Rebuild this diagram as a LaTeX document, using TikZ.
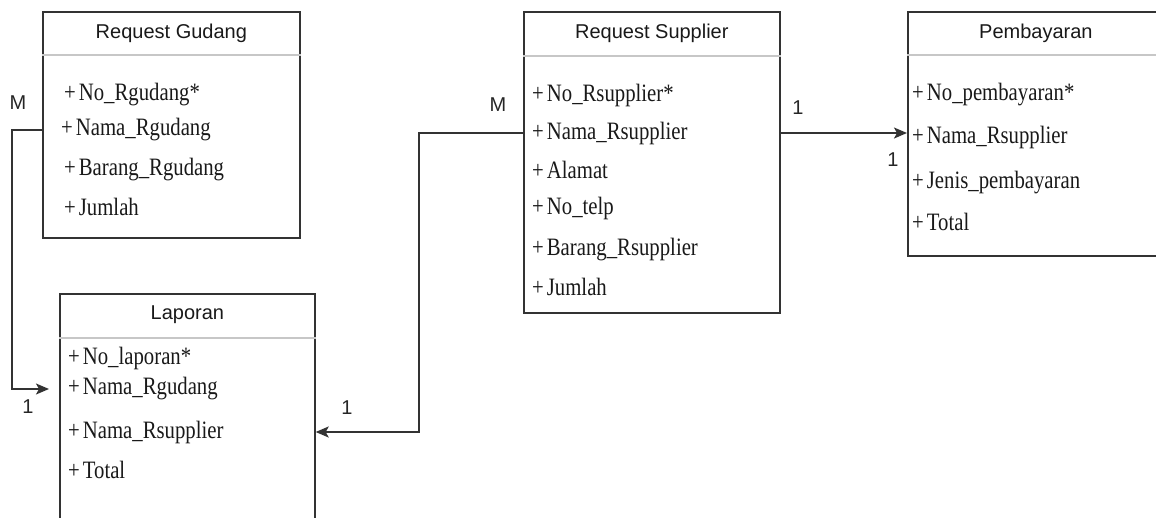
\documentclass[tikz,border=0pt]{standalone}
\usepackage{fontspec}
\setmainfont{Liberation Serif}
\newfontfamily\judulfont{Liberation Sans}
\newfontfamily\atributfont{Liberation Serif}[FakeStretch=0.83]
\usetikzlibrary{arrows.meta,positioning}

\begin{document}
\begin{tikzpicture}[x=1pt, y=-1pt, >={Stealth[length=13pt,width=11pt,inset=3pt]},
  tabel/.style={draw=black!80, line width=1.7pt, rectangle, anchor=north west, inner sep=0pt},
  sekat/.style={draw=black!22, line width=1.3pt},
  judul/.style={font=\judulfont\fontsize{20}{23}\selectfont, text=black!90},
  atribut/.style={font=\atributfont\fontsize{25}{28}\selectfont, anchor=west, inner sep=0pt, text=black!90},
  kardinal/.style={font=\judulfont\fontsize{20}{22}\selectfont, text=black!85},
  garis/.style={draw=black!80, line width=1.7pt}]
  \useasboundingbox (0,0) rectangle (1156,517);

  % Request Gudang
  \node[tabel, minimum width=257pt, minimum height=226pt] (gudang) at (42,11) {};
  \draw[sekat] ([yshift=-44pt]gudang.north west) -- ([yshift=-44pt]gudang.north east);
  \node[judul, below=9pt of gudang.north] (tgudang) {Request Gudang};
  \node[atribut] (rg1) at (64,95) {+\kern3pt No\_Rgudang*};
  \node[atribut] (rg2) at (61,130) {+\kern3pt Nama\_Rgudang};
  \node[atribut] (rg3) at (64,170) {+\kern3pt Barang\_Rgudang};
  \node[atribut] (rg4) at (64,207) {+\kern3pt Jumlah};

  % Laporan
  \node[tabel, minimum width=255pt, minimum height=260pt] (laporan) at (59,293) {};
  \draw[sekat] ([yshift=-45pt]laporan.north west) -- ([yshift=-45pt]laporan.north east);
  \node[judul, below=9pt of laporan.north] (tlaporan) {Laporan};
  \node[atribut] (lp1) at (68,358) {+\kern3pt No\_laporan*};
  \node[atribut] (lp2) at (68,389) {+\kern3pt Nama\_Rgudang};
  \node[atribut] (lp3) at (68,432) {+\kern3pt Nama\_Rsupplier};
  \node[atribut] (lp4) at (68,470) {+\kern3pt Total};

  % Request Supplier
  \node[tabel, minimum width=256pt, minimum height=301pt] (supplier) at (523,11) {};
  \draw[sekat] ([yshift=-45pt]supplier.north west) -- ([yshift=-45pt]supplier.north east);
  \node[judul, below=9pt of supplier.north] (tsupplier) {Request Supplier};
  \node[atribut] (rs1) at (532,95) {+\kern3pt No\_Rsupplier*};
  \node[atribut] (rs2) at (532,133) {+\kern3pt Nama\_Rsupplier};
  \node[atribut] (rs3) at (532,170) {+\kern3pt Alamat};
  \node[atribut] (rs4) at (532,208) {+\kern3pt No\_telp};
  \node[atribut] (rs5) at (532,250) {+\kern3pt Barang\_Rsupplier};
  \node[atribut] (rs6) at (532,287) {+\kern3pt Jumlah};

  % Pembayaran
  \node[tabel, minimum width=256pt, minimum height=244pt] (bayar) at (907,11) {};
  \draw[sekat] ([yshift=-44pt]bayar.north west) -- ([yshift=-44pt]bayar.north east);
  \node[judul, below=9pt of bayar.north] (tbayar) {Pembayaran};
  \node[atribut] (pb1) at (912,95) {+\kern3pt No\_pembayaran*};
  \node[atribut] (pb2) at (912,137) {+\kern3pt Nama\_Rsupplier};
  \node[atribut] (pb3) at (912,183) {+\kern3pt Jenis\_pembayaran};
  \node[atribut] (pb4) at (912,222) {+\kern3pt Total};

  % relasi
  \draw[garis, ->, shorten >=10pt] (gudang.west |- rg2.west) -- ++(-30,0) |- (laporan.west |- lp2.west);
  \draw[garis, ->] (supplier.west |- rs2.west) -- ++(-104,0) |- (laporan.east |- lp3.west);
  \draw[garis, ->] (supplier.east |- rs2.west) -- (bayar.west |- rs2.west);

  \node[kardinal] (m1) at (18,103) {M};
  \node[kardinal] (s1) at (28,407) {1};
  \node[kardinal] (m2) at (498,105) {M};
  \node[kardinal] (s2) at (347,408) {1};
  \node[kardinal] (s3) at (798,108) {1};
  \node[kardinal] (s4) at (893,160) {1};
\end{tikzpicture}
\end{document}
